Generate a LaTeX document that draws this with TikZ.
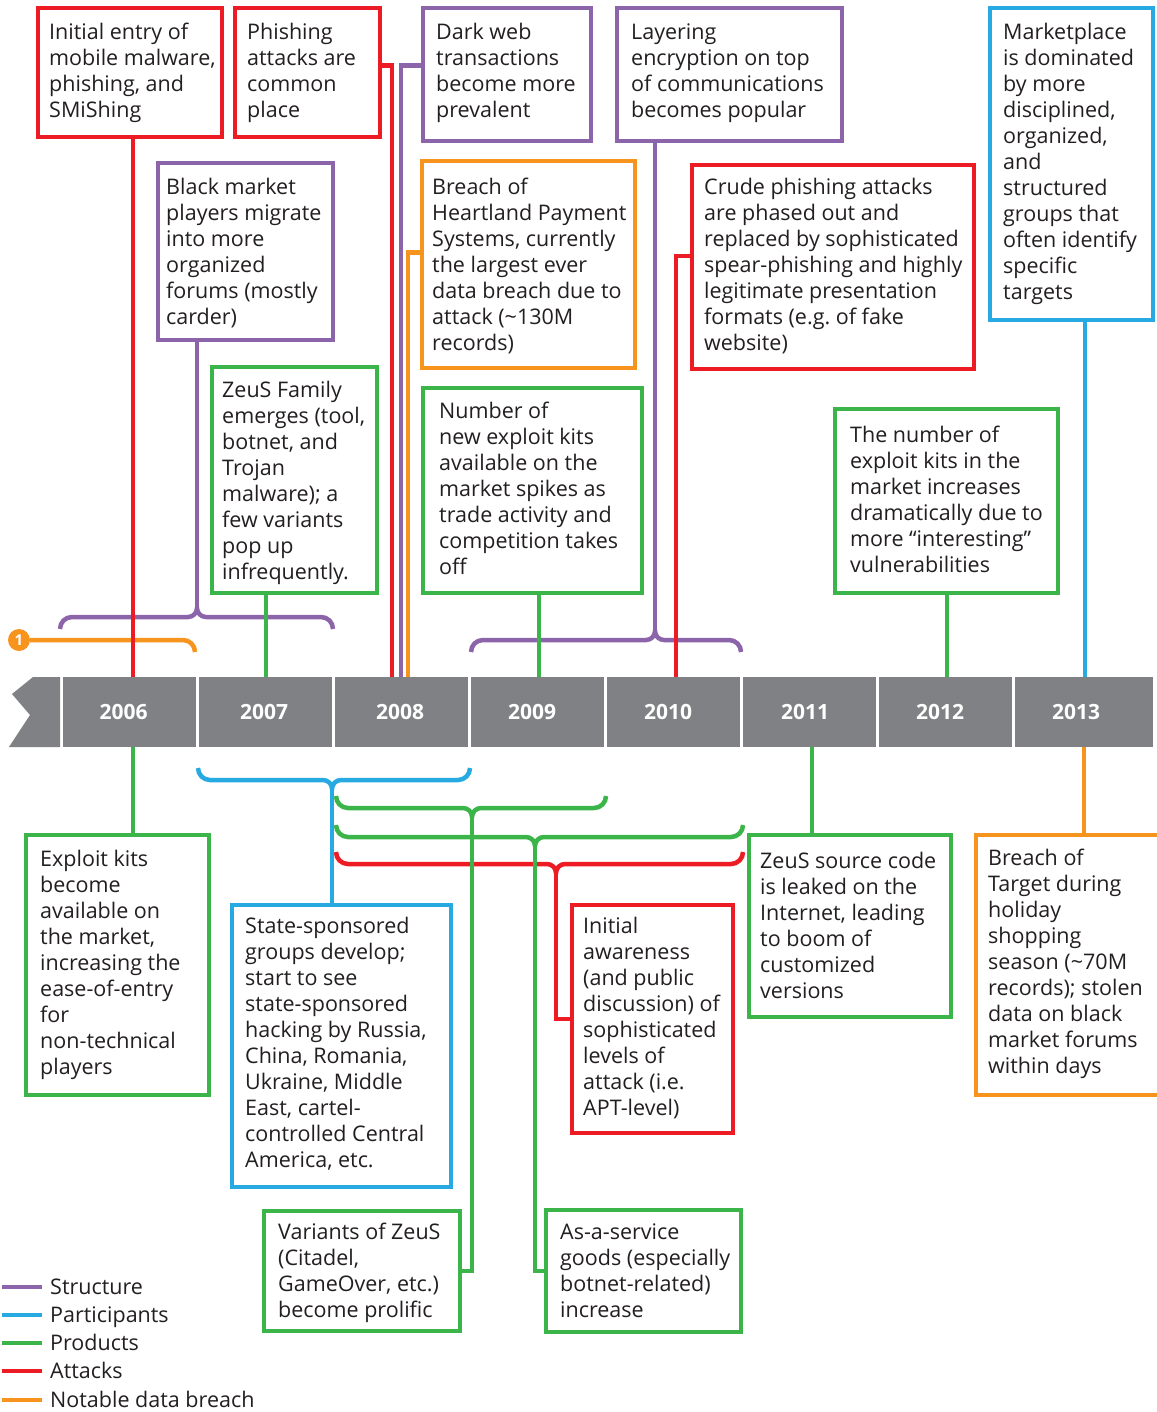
\documentclass[tikz,border=0pt]{standalone}
\usepackage{fontspec}
\setmainfont{Open Sans}
\frenchspacing
\definecolor{cred}{HTML}{ED1C24}
\definecolor{cpur}{HTML}{8C64AA}
\definecolor{cblu}{HTML}{27AAE1}
\definecolor{cgre}{HTML}{3BB44A}
\definecolor{cora}{HTML}{F7941D}
\definecolor{cbar}{HTML}{808184}
\definecolor{ctext}{HTML}{231F20}
% name, colour, x1, y1, x2, y2, text dx, first-line offset, text
\newcommand\tlnode[9]{%
  \node[tlbox=#2, minimum width={#5-#3}, minimum height={#6-#4}] (b#1) at (#3,#4) {};
  \node[tx] (t#1) at ({#3+#7},{#4+#8-11}) {\strut #9};
}
% name, style, x1, x2, xc, y  (ends down, cusp up)
\newcommand\brtop[6]{%
  \draw[#2] (#3,{#6+12}) to[out=90,in=180] ({#3+12},#6) -- ({#5-9},#6) to[out=0,in=-90] (#5,{#6-9}) coordinate (#1) to[out=-90,in=180] ({#5+9},#6) -- ({#4-12},#6) to[out=0,in=90] (#4,{#6+12});
}
% name, style, x1, x2, xc, y  (ends up, cusp down)
\newcommand\brbot[6]{%
  \draw[#2] (#3,{#6-12}) to[out=-90,in=180] ({#3+12},#6) -- ({#5-9},#6) to[out=0,in=90] (#5,{#6+9}) coordinate (#1) to[out=90,in=180] ({#5+9},#6) -- ({#4-12},#6) to[out=0,in=-90] (#4,{#6-12});
}
\begin{document}
\begin{tikzpicture}[x=1pt,y=-1pt,
  conn/.style={line width=4.5pt},
  lred/.style={conn, draw=cred},
  lpur/.style={conn, draw=cpur},
  lblu/.style={conn, draw=cblu},
  lgre/.style={conn, draw=cgre},
  lora/.style={conn, draw=cora},
  tlbox/.style={draw=#1, fill=white, line width=4.5pt, anchor=north west, inner sep=0, outer sep=0},
  tx/.style={anchor=north west, align=left, inner sep=0, text=ctext, font=\fontsize{21.5}{26}\selectfont},
  seg/.style={fill=cbar, minimum height=70, inner sep=0, outer sep=0, text=white, font=\fontsize{21}{25}\selectfont\bfseries},
  lg/.style={anchor=base west, inner sep=0, text=ctext, font=\fontsize{21.5}{26}\selectfont},
]
\useasboundingbox (0,0) rectangle (1156,1412);

% ---------- boxes above the bar ----------
\tlnode{1}{cred}{38}{8}{222}{137}{11}{24}{Initial entry of\\mobile malware,\\phishing, and\\SMiShing}
\tlnode{2}{cred}{235}{8}{380}{137}{12}{24}{Phishing\\attacks are\\common\\place}
\tlnode{3}{cpur}{423}{8}{591}{141}{13}{24}{Dark web\\transactions\\become more\\prevalent}
\tlnode{4}{cpur}{617}{8}{842}{141}{14}{24}{Layering\\encryption on top\\of communications\\becomes popular}
\tlnode{5}{cblu}{990}{8}{1153}{320}{13}{24}{Marketplace\\is dominated\\by more\\disciplined,\\organized,\\and\\structured\\groups that\\often identify\\specific\\targets}
\tlnode{6}{cpur}{158}{163}{333}{340}{8}{24}{Black market\\players migrate\\into more\\organized\\forums (mostly\\carder)}
\tlnode{7}{cora}{422}{161}{635}{368}{10}{26}{Breach of\\Heartland Payment\\Systems, currently\\the largest ever\\data breach due to\\attack (\textasciitilde130M\\records)}
\tlnode{8}{cred}{692}{165}{974}{369}{12}{22}{Crude phishing attacks\\are phased out and\\replaced by sophisticated\\spear-phishing and highly\\legitimate presentation\\formats (e.g. of fake\\website)}
\tlnode{9}{cgre}{212}{367}{377}{593}{10}{23}{ZeuS Family\\emerges (tool,\\botnet, and\\Trojan\\malware); a\\few variants\\pop up\\infrequently.}
\tlnode{10}{cgre}{423}{388}{642}{593}{16}{23}{Number of\\new exploit kits\\available on the\\market spikes as\\trade activity and\\competition takes\\off}
\tlnode{11}{cgre}{835}{409}{1058}{593}{15}{26}{The number of\\exploit kits in the\\market increases\\dramatically due to\\more “interesting”\\vulnerabilities}

% ---------- boxes below the bar ----------
\tlnode{12}{cgre}{26}{835}{209}{1095}{14}{24}{Exploit kits\\become\\available on\\the market,\\increasing the\\ease-of-entry\\for\\non-technical\\players}
\tlnode{13}{cblu}{232}{905}{451}{1187}{13}{21}{State-sponsored\\groups develop;\\start to see\\state-sponsored\\hacking by Russia,\\China, Romania,\\Ukraine, Middle\\East, cartel-\\controlled Central\\America, etc.}
\tlnode{14}{cgre}{264}{1211}{460}{1331}{14}{21}{Variants of ZeuS\\(Citadel,\\GameOver, etc.)\\become prolific}
\tlnode{15}{cgre}{546}{1210}{741}{1332}{14}{22}{As-a-service\\goods (especially\\botnet-related)\\increase}
\tlnode{16}{cred}{572}{905}{733}{1133}{11}{21}{Initial\\awareness\\(and public\\discussion) of\\sophisticated\\levels of\\attack (i.e.\\APT-level)}
\tlnode{17}{cgre}{749}{835}{951}{1017}{11}{26}{ZeuS source code\\is leaked on the\\Internet, leading\\to boom of\\customized\\versions}
\tlnode{18}{cora}{976}{835}{1170}{1095}{12}{23}{Breach of\\Target during\\holiday\\shopping\\season (\textasciitilde70M\\records); stolen\\data on black\\market forums\\within days}

% ---------- bar anchor points ----------
\coordinate (a1) at (133,677);
\coordinate (a2) at (392,677);
\coordinate (a3) at (401,677);
\coordinate (a7) at (408,677);
\coordinate (a8) at (676,677);
\coordinate (a5) at (1085,677);
\coordinate (a9) at (266,677);
\coordinate (a10) at (539,677);
\coordinate (a11) at (947,677);
\coordinate (d12) at (133,747);
\coordinate (d17) at (812,747);
\coordinate (d18) at (1084,747);

% ---------- brackets ----------
\brtop{cP1}{lpur}{60}{333}{197}{617}
\brtop{cP2}{lpur}{471}{741}{655}{640}
\node[circle, fill=cora, inner sep=0, minimum size=22, text=white, font=\fontsize{15}{15}\selectfont\bfseries] (n1) at (19,640) {1};
\coordinate (o2) at (183,640);
\coordinate (o1) at (195,652);
\draw[lora] (n1.east) -- (o2) to[out=0,in=90] (o1);

\brbot{cB}{lblu}{198}{470}{332}{780}
\brbot{cG1}{lgre}{336}{606}{472}{808}
\brbot{cG2}{lgre}{336}{743}{535}{837}
\brbot{cR}{lred}{336}{743}{556}{864}

% ---------- connectors above ----------
\draw[lred] (b1.south -| a1) -- (a1);
\draw[lred] ([yshift=7pt]b2.east) -| (a2);
\draw[lpur] ([yshift=9pt]b3.west) -| (a3);
\draw[lora] ([yshift=12pt]b7.west) -| (a7);
\draw[lred] ([yshift=11pt]b8.west) -| (a8);
\draw[lpur] (b4.south -| cP2) -- (cP2);
\draw[lpur] (b6.south -| cP1) -- (cP1);
\draw[lblu] (b5.south -| a5) -- (a5);
\draw[lgre] (b9.south -| a9) -- (a9);
\draw[lgre] (b10.south -| a10) -- (a10);
\draw[lgre] (b11.south -| a11) -- (a11);

% ---------- connectors below ----------
\draw[lgre] (d12) -- (d12 |- b12.north);
\draw[lgre] (d17) -- (d17 |- b17.north);
\draw[lora] (d18) -- (d18 |- b18.north);
\draw[lblu] (cB) -- (cB |- b13.north);
\draw[lgre] (cG1) |- (b14.east);
\draw[lgre] (cG2) |- (b15.west);
\draw[lred] (cR) |- (b16.west);

% ---------- timeline bar ----------
\fill[cbar] (33,677) -- (12,694) -- (30,715) -- (9,747) -- (60,747) -- (60,677) -- cycle;
\node[seg, minimum width=133] (s2006) at (129.5,712) {\hspace*{-12pt}2006};
\node[seg, minimum width=133] (s2007) at (265.5,712) {\hspace*{-3pt}2007};
\node[seg, minimum width=133] (s2008) at (401.5,712) {\hspace*{-3pt}2008};
\node[seg, minimum width=133] (s2009) at (537.5,712) {\hspace*{-11pt}2009};
\node[seg, minimum width=133] (s2010) at (673.5,712) {\hspace*{-11pt}2010};
\node[seg, minimum width=133] (s2011) at (809.5,712) {\hspace*{-9pt}2011};
\node[seg, minimum width=133] (s2012) at (945.5,712) {\hspace*{-11pt}2012};
\node[seg, minimum width=138] (s2013) at (1084,712) {\hspace*{-16pt}2013};

% ---------- legend ----------
\draw[lpur] (2,1287) -- (42,1287);
\draw[lblu] (2,1315) -- (42,1315);
\draw[lgre] (2,1343) -- (42,1343);
\draw[lred] (2,1371) -- (42,1371);
\draw[lora] (2,1400) -- (42,1400);
\node[lg] (l1) at (50,1294) {Structure};
\node[lg] (l2) at (50,1322) {Participants};
\node[lg] (l3) at (50,1350) {Products};
\node[lg] (l4) at (50,1378) {Attacks};
\node[lg] (l5) at (50,1407) {Notable data breach};
\end{tikzpicture}
\end{document}
